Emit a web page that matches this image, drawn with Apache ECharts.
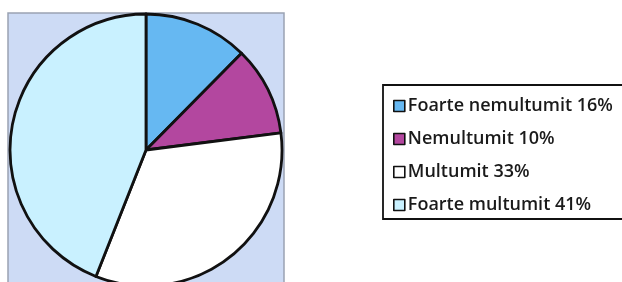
<!DOCTYPE html>
<html>
<head>
<meta charset="utf-8">
<script src="https://cdn.jsdelivr.net/npm/echarts@6/dist/echarts.min.js"></script>
<style>
  html, body { margin: 0; padding: 0; background: #fff; }
  #chart { width: 622px; height: 282px; }
</style>
</head>
<body>
<div id="chart"></div>
<script>
// legend text as printed; slice sizes as drawn in the picture
var categories = ["Foarte nemultumit 16%", "Nemultumit 10%", "Multumit 33%", "Foarte multumit 41%"];
var values = [12.4, 10.6, 33, 44];
var colors = ["#66b8f2", "#b3479f", "#ffffff", "#c9f1ff"];

var myChart = echarts.init(document.getElementById("chart"));
var option = {
  animation: false,
  backgroundColor: "#fff",
  graphic: [
    {
      // plot area background
      type: "rect",
      shape: { x: 8, y: 13, width: 276, height: 280 },
      style: { fill: "#cddbf5", stroke: "#9aa3b3", lineWidth: 1.5 },
      z: 0
    },
    {
      // legend frame, runs off the right edge
      type: "rect",
      shape: { x: 383, y: 85, width: 260, height: 134 },
      style: { fill: "none", stroke: "#111", lineWidth: 1.8 },
      z: 0
    }
  ],
  legend: {
    orient: "vertical",
    left: 383,
    top: 85,
    padding: [12, 10, 6, 10],
    itemWidth: 11,
    itemHeight: 11,
    itemGap: 15,
    icon: "rect",
    itemStyle: { borderColor: "#111", borderWidth: 1.6 },
    textStyle: {
      fontFamily: "Open Sans",
      fontWeight: 600,
      fontSize: 18,
      lineHeight: 17,
      color: "#1a1a1a",
      padding: [0, 0, 0, -2]
    },
    data: categories
  },
  series: [
    {
      type: "pie",
      center: [146, 150],
      radius: 136,
      startAngle: 90,
      clockwise: true,
      label: { show: false },
      labelLine: { show: false },
      emphasis: { disabled: true },
      itemStyle: { borderColor: "#111", borderWidth: 2.8 },
      data: categories.map(function (c, i) {
        return { name: c, value: values[i], itemStyle: { color: colors[i] } };
      }),
      z: 2
    }
  ]
};
myChart.setOption(option);
</script>
</body>
</html>
